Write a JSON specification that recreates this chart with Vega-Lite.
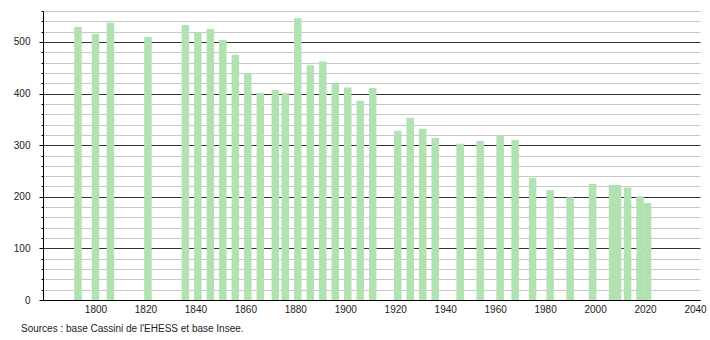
{
  "$schema": "https://vega.github.io/schema/vega-lite/v6.json",
  "width": 657,
  "height": 289,
  "autosize": "none",
  "padding": {"left": 43, "top": 11, "right": 10, "bottom": 40},
  "background": "white",
  "title": {
    "text": "Sources : base Cassini de l'EHESS et base Insee.",
    "orient": "bottom",
    "anchor": "start",
    "frame": "group",
    "dx": -22,
    "offset": 10,
    "font": "Liberation Sans",
    "fontSize": 10,
    "fontWeight": "normal",
    "color": "#222"
  },
  "data": {
    "values": [
      {"year": 1793, "pop": 529}, {"year": 1800, "pop": 516}, {"year": 1806, "pop": 537},
      {"year": 1821, "pop": 510}, {"year": 1836, "pop": 533}, {"year": 1841, "pop": 518},
      {"year": 1846, "pop": 525}, {"year": 1851, "pop": 504}, {"year": 1856, "pop": 475},
      {"year": 1861, "pop": 440}, {"year": 1866, "pop": 401}, {"year": 1872, "pop": 407},
      {"year": 1876, "pop": 401}, {"year": 1881, "pop": 546}, {"year": 1886, "pop": 455},
      {"year": 1891, "pop": 462}, {"year": 1896, "pop": 419}, {"year": 1901, "pop": 412},
      {"year": 1906, "pop": 386}, {"year": 1911, "pop": 411}, {"year": 1921, "pop": 328},
      {"year": 1926, "pop": 353}, {"year": 1931, "pop": 332}, {"year": 1936, "pop": 314},
      {"year": 1946, "pop": 303}, {"year": 1954, "pop": 308}, {"year": 1962, "pop": 319},
      {"year": 1968, "pop": 310}, {"year": 1975, "pop": 237}, {"year": 1982, "pop": 213},
      {"year": 1990, "pop": 199}, {"year": 1999, "pop": 225}, {"year": 2007, "pop": 223},
      {"year": 2009, "pop": 223}, {"year": 2013, "pop": 218}, {"year": 2018, "pop": 201},
      {"year": 2021, "pop": 188}
    ]
  },
  "mark": {"type": "bar", "width": 7.5, "color": "#b2e2b2", "clip": true},
  "encoding": {
    "x": {
      "field": "year",
      "type": "quantitative",
      "scale": {"domain": [1779, 2042], "nice": false, "zero": false, "padding": 0},
      "axis": {
        "title": null,
        "values": [1800, 1820, 1840, 1860, 1880, 1900, 1920, 1940, 1960, 1980, 2000, 2020, 2040],
        "format": "d",
        "ticks": false,
        "grid": false,
        "labelPadding": 4,
        "labelFont": "Liberation Sans",
        "labelFontSize": 10,
        "labelColor": "#222",
        "domainColor": "#000",
        "labelFlush": false
      }
    },
    "y": {
      "field": "pop",
      "type": "quantitative",
      "scale": {"domain": [0, 560], "nice": false, "padding": 0},
      "axis": {
        "title": null,
        "values": [0, 20, 40, 60, 80, 100, 120, 140, 160, 180, 200, 220, 240, 260, 280, 300, 320, 340, 360, 380, 400, 420, 440, 460, 480, 500, 520, 540, 560],
        "labelExpr": "datum.value % 100 === 0 ? datum.label : ''",
        "grid": true,
        "gridColor": {"condition": {"test": "datum.value % 100 === 0", "value": "#333"}, "value": "#c8c8c8"},
        "gridWidth": 1,
        "tickSize": {"condition": {"test": "datum.value % 100 === 0", "value": 4}, "value": 2},
        "tickColor": "#000",
        "labelPadding": 9,
        "labelFont": "Liberation Sans",
        "labelFontSize": 10,
        "labelColor": "#222",
        "domainColor": "#000"
      }
    }
  },
  "config": {"view": {"stroke": null}}
}
